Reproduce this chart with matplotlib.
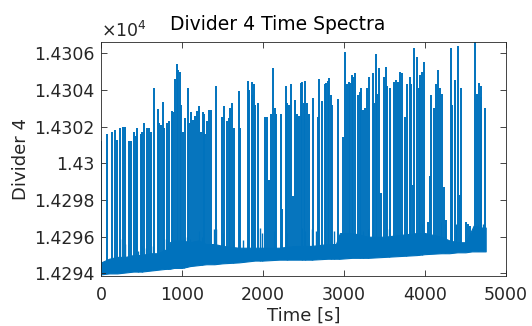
import numpy as np
import matplotlib
matplotlib.use("Agg")
import matplotlib.pyplot as plt

# baseline band (dense noise)
band_t = [0, 100, 200, 300, 400, 500, 600, 700, 800, 850, 900, 1000, 1100, 1200, 1300, 1400,
          1500, 1700, 1900, 2000, 2200, 2400, 2600, 2800, 2900, 2950, 3100, 3300, 3500,
          3700, 3900, 4000, 4200, 4300, 4400, 4500, 4580, 4600, 4700, 4750]
band_lo = [14293.95, 14294.0, 14294.0, 14294.05, 14294.1, 14294.1, 14294.15, 14294.2, 14294.25,
           14294.25, 14294.3, 14294.3, 14294.4, 14294.45, 14294.5, 14294.5, 14294.55, 14294.6,
           14294.7, 14294.7, 14294.75, 14294.75, 14294.75, 14294.8, 14294.8, 14294.8, 14294.85,
           14294.85, 14294.9, 14294.95, 14295.0, 14295.05, 14295.1, 14295.1, 14295.15, 14295.15,
           14295.2, 14295.2, 14295.2, 14295.2]
band_hi = [14294.6, 14294.8, 14294.9, 14294.9, 14295.0, 14295.0, 14295.1, 14295.1, 14295.3,
           14295.7, 14295.8, 14295.8, 14295.7, 14295.8, 14295.6, 14295.6, 14295.5, 14295.4,
           14295.4, 14295.4, 14295.4, 14295.5, 14295.5, 14295.6, 14295.6, 14296.2, 14296.2,
           14296.0, 14296.0, 14296.1, 14296.2, 14296.2, 14296.0, 14295.8, 14295.7, 14295.7,
           14296.4, 14296.6, 14296.5, 14296.5]

# small spikes on top of the band
small_t = [230, 300, 456, 500, 560, 640, 806, 830, 1020, 1060, 1100, 1210, 1250, 1390, 1420,
           1500, 1630, 1750, 1960, 1990, 2140, 2300, 2480, 2520, 2600, 2650, 2840, 2880, 2940,
           3060, 3200, 3240, 3300, 3560, 3700, 3760, 3930, 3960, 4200, 4250, 4380, 4650, 4720]
small_peak = [14295.9, 14295.6, 14295.2, 14295.5, 14295.4, 14295.5, 14295.9, 14295.8, 14295.9,
              14296.0, 14295.9, 14296.3, 14296.0, 14296.4, 14296.4, 14296.2, 14295.8, 14295.8,
              14296.5, 14296.2, 14296.3, 14296.2, 14296.5, 14296.3, 14296.4, 14296.3, 14296.3,
              14296.3, 14296.1, 14296.3, 14296.5, 14296.3, 14296.4, 14296.4, 14296.3, 14296.4,
              14296.8, 14296.7, 14296.8, 14296.7, 14296.7, 14296.7, 14296.7]

# big spikes (time, top value)
spike_t = [4, 78, 136, 169, 198, 230, 272, 292, 341, 374, 403, 428, 448, 490, 510, 531, 568, 590,
           613, 652, 698, 716, 737, 770, 778, 819, 844, 877, 893, 918, 934, 951, 971, 992, 1012,
           1041, 1070, 1082, 1115, 1136, 1156, 1189, 1205, 1239, 1255, 1270, 1288, 1313, 1333,
           1354, 1424, 1494, 1518, 1560, 1580, 1597, 1621, 1642, 1704, 1720, 1809, 1822, 1864,
           1870, 1889, 1905, 1938, 2021, 2053, 2070, 2102, 2118, 2144, 2164, 2218, 2239, 2280,
           2300, 2321, 2342, 2374, 2391, 2424, 2444, 2465, 2482, 2502, 2523, 2543, 2564, 2621,
           2679, 2696, 2728, 2765, 2782, 2798, 2815, 2844, 2856, 2926, 2992, 3014, 3041, 3062,
           3070, 3099, 3115, 3132, 3173, 3197, 3214, 3234, 3255, 3284, 3305, 3354, 3370, 3393,
           3412, 3432, 3461, 3490, 3514, 3535, 3564, 3617, 3646, 3667, 3687, 3716, 3749, 3782,
           3811, 3831, 3852, 3870, 3906, 3926, 3943, 3967, 3988, 4037, 4058, 4078, 4107, 4132,
           4160, 4185, 4210, 4234, 4263, 4325, 4333, 4366, 4412, 4428, 4449, 4502, 4531, 4560,
           4621, 4642, 4671, 4688, 4696, 4737]
spike_peak = [14301.2, 14301.6, 14301.7, 14301.8, 14301.3, 14301.9, 14302.0, 14302.0, 14301.2,
              14301.2, 14301.7, 14301.5, 14301.95, 14301.6, 14301.7, 14302.2, 14301.95, 14301.9,
              14301.7, 14304.1, 14302.95, 14302.2, 14302.1, 14303.35, 14301.95, 14302.2, 14302.3,
              14302.85, 14302.8, 14304.6, 14305.4, 14305.1, 14305.0, 14303.2, 14301.7, 14302.45,
              14304.1, 14302.2, 14302.8, 14302.35, 14302.6, 14302.85, 14303.1, 14301.7, 14302.8,
              14302.7, 14301.6, 14302.3, 14302.9, 14302.9, 14304.2, 14302.55, 14303.1, 14302.3,
              14302.45, 14303.0, 14303.27, 14301.9, 14303.96, 14301.9, 14304.5, 14304.0, 14303.7,
              14304.45, 14304.3, 14303.2, 14303.27, 14302.55, 14302.55, 14299.1, 14302.7, 14305.2,
              14303.0, 14302.7, 14302.7, 14297.5, 14304.2, 14303.3, 14303.2, 14304.3, 14298.2,
              14303.45, 14302.7, 14302.6, 14304.36, 14304.45, 14303.3, 14304.5, 14303.3, 14302.7,
              14303.55, 14302.5, 14304.6, 14303.4, 14304.3, 14304.4, 14304.5, 14304.67, 14303.7,
              14303.2, 14303.5, 14301.45, 14306.05, 14304.3, 14304.45, 14304.36, 14304.8, 14304.7,
              14304.9, 14303.7, 14303.9, 14304.1, 14302.9, 14303.0, 14304.1, 14304.7, 14304.9,
              14303.3, 14305.95, 14303.8, 14305.2, 14298.4, 14304.7, 14305.27, 14304.2, 14304.1,
              14304.45, 14304.55, 14304.45, 14305.0, 14304.9, 14302.5, 14304.3, 14304.7, 14304.3,
              14298.8, 14306.3, 14305.8, 14304.1, 14304.8, 14305.0, 14305.55, 14296.8, 14299.3,
              14303.7, 14303.0, 14304.3, 14305.1, 14304.1, 14303.8, 14298.7, 14296.9, 14306.27,
              14303.2, 14304.55, 14306.42, 14298.3, 14304.1, 14296.8, 14296.7, 14296.6, 14306.8,
              14303.8, 14304.36, 14304.2, 14303.6, 14303.0]

yticks = [14294, 14296, 14298, 14300, 14302, 14304, 14306]
ytick_labels = ["1.4294", "1.4296", "1.4298", "1.43", "1.4302", "1.4304", "1.4306"]

col = "#0072BD"
axcol = "#262626"

fig = plt.figure(figsize=(5.32, 3.26), dpi=100)
ax = fig.add_axes([0.190, 0.154, 0.761, 0.718])

ax.fill_between(band_t, band_lo, band_hi, color=col, linewidth=0.8)
ax.vlines(small_t, np.interp(small_t, band_t, band_lo), small_peak, color=col, linewidth=1.0)
base = np.interp(spike_t, band_t, band_lo)
ax.vlines(spike_t, base, spike_peak, color=col, linewidth=1.4)

ax.set_xlim(0, 5000)
ax.set_ylim(14293.87, 14306.63)
ax.set_xticks([0, 1000, 2000, 3000, 4000, 5000])
ax.set_yticks(yticks)
ax.set_yticklabels(ytick_labels)
ax.tick_params(direction="in", top=True, right=True, labelsize=12.5,
               colors=axcol, labelcolor=axcol, length=4, width=0.6)
ax.tick_params(axis="x", pad=7)
ax.tick_params(axis="y", pad=4.5)
for s in ax.spines.values():
    s.set_color(axcol)
    s.set_linewidth(0.6)

ax.set_xlabel("Time [s]", fontsize=13, color=axcol, labelpad=2)
ax.set_ylabel("Divider 4", fontsize=13, color=axcol, labelpad=3)
# title sits a bit left of centre, like the original
ax.text(0.436, 1.035, "Divider 4 Time Spectra", transform=ax.transAxes, fontsize=13.5,
        color="black", ha="center", va="bottom")
ax.text(0.0, 1.004, r"$\times10^4$", transform=ax.transAxes, fontsize=12.5,
        color=axcol, ha="left", va="bottom")

fig.savefig("out.png", dpi=100)
